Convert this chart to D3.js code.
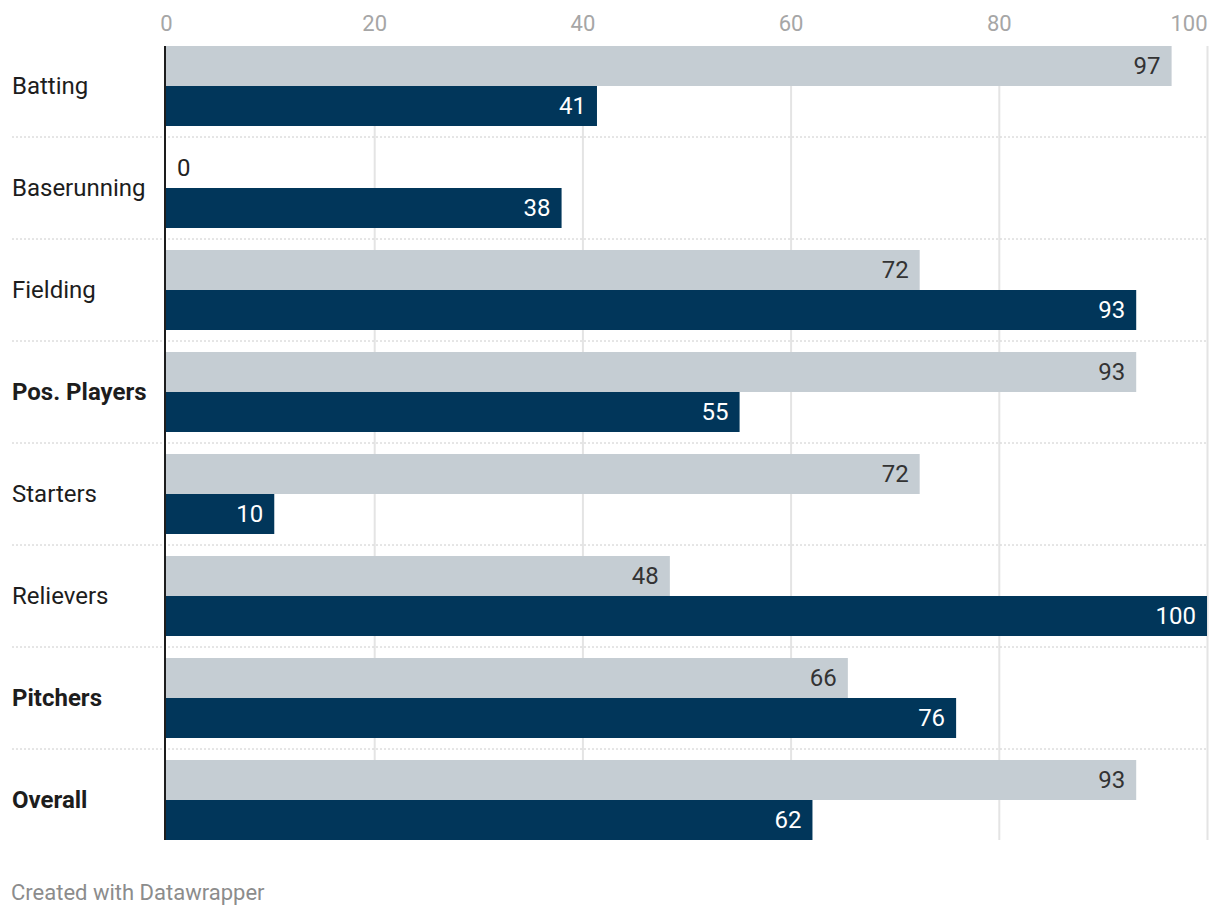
<!DOCTYPE html>
<html>
<head>
<meta charset="utf-8">
<script src="https://cdn.jsdelivr.net/npm/d3@7"></script>
<style>
  body { margin: 0; background: #fff; font-family: Roboto, "Noto Sans", sans-serif; }
</style>
</head>
<body>
<script>
// data
const categories = ["Batting", "Baserunning", "Fielding", "Pos. Players", "Starters", "Relievers", "Pitchers", "Overall"];
const boldCats = ["Pos. Players", "Pitchers", "Overall"];
const seriesA = [96.6, 0, 72.4, 93.2, 72.4, 48.4, 65.5, 93.2];   // light bars
const seriesB = [41.4, 38, 93.2, 55.1, 10.4, 100, 75.9, 62.1];   // dark bars
const tickValues = [0, 20, 40, 60, 80, 100];

const w = 1220;
const h = 916;
const padLeft = 166;
const padRight = 1207;
const padTop = 46;
const rowH = 102;
const barH = 40;
const plotBottom = padTop + rowH * categories.length - 22;

const svg = d3.select("body").append("svg")
  .attr("width", w)
  .attr("height", h);

const xScale = d3.scaleLinear().domain([0, 100]).range([padLeft, padRight]);
const yScale = d3.scaleBand().domain(categories).range([padTop, padTop + rowH * categories.length]);

// ticks
const xAxis = d3.axisTop(xScale).tickValues(tickValues).tickSize(0).tickPadding(0);
const gx = svg.append("g").attr("transform", "translate(0,31)").call(xAxis);
gx.select(".domain").remove();
gx.selectAll("text")
  .attr("font-family", "Roboto")
  .attr("font-size", 22)
  .attr("fill", "#a6a6a6")
  .attr("dy", 0);
gx.selectAll(".tick").filter((d) => d === 100).select("text").attr("text-anchor", "end");

// gridlines
svg.append("g").selectAll("line")
  .data(tickValues.filter((d) => d > 0))
  .enter().append("line")
  .attr("x1", (d) => xScale(d) + 0.5)
  .attr("x2", (d) => xScale(d) + 0.5)
  .attr("y1", padTop)
  .attr("y2", plotBottom)
  .attr("stroke", "#e4e4e4")
  .attr("stroke-width", 2);

// row separators
svg.append("g").selectAll("line")
  .data(categories.slice(0, -1))
  .enter().append("line")
  .attr("x1", 12)
  .attr("x2", padRight)
  .attr("y1", (d) => yScale(d) + 91)
  .attr("y2", (d) => yScale(d) + 91)
  .attr("stroke", "#cccccc")
  .attr("stroke-width", 1)
  .attr("stroke-dasharray", "2,2");

// bars
const rows = svg.append("g").selectAll(".row")
  .data(categories)
  .enter().append("g")
  .attr("class", "row");

rows.append("rect")
  .attr("x", padLeft)
  .attr("y", (d) => yScale(d))
  .attr("width", (d, i) => xScale(seriesA[i]) - padLeft)
  .attr("height", barH)
  .attr("fill", "#c5cdd3");

rows.append("rect")
  .attr("x", padLeft)
  .attr("y", (d) => yScale(d) + barH)
  .attr("width", (d, i) => xScale(seriesB[i]) - padLeft)
  .attr("height", barH)
  .attr("fill", "#01365a");

// value labels
function valueLabel(sel, vals, off, inside, outside) {
  sel.append("text")
    .attr("x", (d, i) => vals[i] < 8 ? xScale(vals[i]) + 11 : xScale(vals[i]) - 11)
    .attr("y", (d) => yScale(d) + off + barH / 2)
    .attr("dy", "0.35em")
    .attr("text-anchor", (d, i) => vals[i] < 8 ? "start" : "end")
    .attr("font-size", 24)
    .attr("fill", (d, i) => vals[i] < 8 ? outside : inside)
    .text((d, i) => Math.round(vals[i]));
}
valueLabel(rows, seriesA, 0, "#333333", "#222222");
valueLabel(rows, seriesB, barH, "#ffffff", "#222222");

// category labels
rows.append("text")
  .attr("x", 12)
  .attr("y", (d) => yScale(d) + barH)
  .attr("dy", "0.35em")
  .attr("font-size", 24)
  .attr("font-weight", (d) => boldCats.includes(d) ? "bold" : "normal")
  .attr("fill", "#1d1d1d")
  .text((d) => d);

// baseline
svg.append("line")
  .attr("x1", padLeft - 1)
  .attr("x2", padLeft - 1)
  .attr("y1", padTop)
  .attr("y2", plotBottom)
  .attr("stroke", "#1d1d1d")
  .attr("stroke-width", 2);

// footer
svg.append("text")
  .attr("x", 11)
  .attr("y", 900)
  .attr("font-size", 22)
  .attr("fill", "#8c8c8c")
  .text("Created with Datawrapper");
</script>
</body>
</html>
